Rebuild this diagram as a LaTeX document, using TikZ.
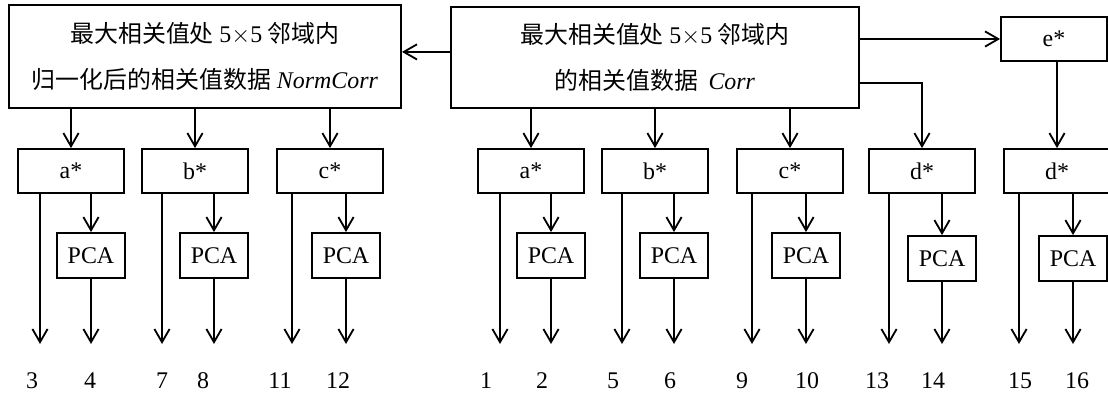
\documentclass[tikz,border=0pt]{standalone}
\usepackage{fontspec}
\setmainfont{Liberation Serif}
\newfontfamily\cjk{Noto Sans CJK SC}
\usetikzlibrary{arrows.meta,positioning}
\tikzstyle{bigbox}=[draw, inner sep=0pt, align=center, font={\fontsize{17pt}{33pt}\selectfont}]
\tikzstyle{starbox}=[draw, inner sep=0pt, minimum width=2.65cm, minimum height=1.1cm, font={\fontsize{17pt}{20pt}\selectfont}]
\tikzstyle{pcabox}=[draw, inner sep=0pt, minimum width=1.7cm, minimum height=1.125cm, font={\fontsize{17pt}{20pt}\selectfont}]
\tikzstyle{lab}=[inner sep=0pt, font={\fontsize{17pt}{20pt}\selectfont}]
\newcommand{\fivefive}{\hspace{4pt}5$\times$5\hspace{4pt}}

\begin{document}
\begin{tikzpicture}[x=0.025cm, y=-0.025cm, line width=1.3pt,
    >={Straight Barb[length=3.3mm,width=3.8mm]}]
  \useasboundingbox (0,0) rectangle (1108,396);
  %
  \node[bigbox, minimum width=9.8cm, minimum height=2.575cm] (normcorr) at (205,56.5)
    {{\cjk 最大相关值处}\fivefive{\cjk 邻域内}\\{\cjk 归一化后的相关值数据} \textit{NormCorr}};
  \node[bigbox, minimum width=10.2cm, minimum height=2.525cm] (corr) at (655,57.5)
    {{\cjk 最大相关值处}\fivefive{\cjk 邻域内}\\{\cjk 的相关值数据}\hspace{3pt} \textit{Corr}};
  \node[starbox] (e) at (1054,39) {e*};
  %
  \foreach \n/\t/\bx/\lx/\cx/\cy/\lnum/\rnum/\lpos/\rpos in {
      A1/a*/71/40/91/255.5/3/4/32/90,
      B1/b*/195/162/214/255.5/7/8/162/203,
      C1/c*/330/292/346/255.5/11/12/280/338,
      A2/a*/531/500/551/255.5/1/2/486/542,
      B2/b*/655/622/674/255.5/5/6/613/670,
      C2/c*/790/752/806/255.5/9/10/742/807,
      D1/d*/922/889/942/258.5/13/14/877/933,
      D2/d*/1057/1019/1073/258.5/15/16/1020/1077}{
    \node[starbox] (\n) at (\bx,171) {\t};
    \node[pcabox] (p\n) at (\cx,\cy) {PCA};
    \coordinate (l\n) at (\lx,344);
    \coordinate (r\n) at (\cx,344);
    \node[lab] (n\lnum) at (\lpos,381) {\lnum};
    \node[lab] (n\rnum) at (\rpos,381) {\rnum};
    \draw[->] (l\n |- \n.south) -- (l\n);
    \draw[->] (p\n.north |- \n.south) -- (p\n.north);
    \draw[->] (p\n.south) -- (r\n);
  }
  %
  \foreach \n in {A1,B1,C1}
    \draw[->] (\n |- normcorr.south) -- (\n.north);
  \foreach \n in {A2,B2,C2}
    \draw[->] (\n |- corr.south) -- (\n.north);
  \draw[->] ([yshift=0.14cm]corr.west) -- ([yshift=0.14cm]corr.west -| normcorr.east);
  \draw[->] (corr.east |- e.west) -- (e.west);
  \draw[->] ([yshift=-0.64cm]corr.east) -| (D1.north);
  \draw[->] (e.south -| D2.north) -- (D2.north);
\end{tikzpicture}
\end{document}
